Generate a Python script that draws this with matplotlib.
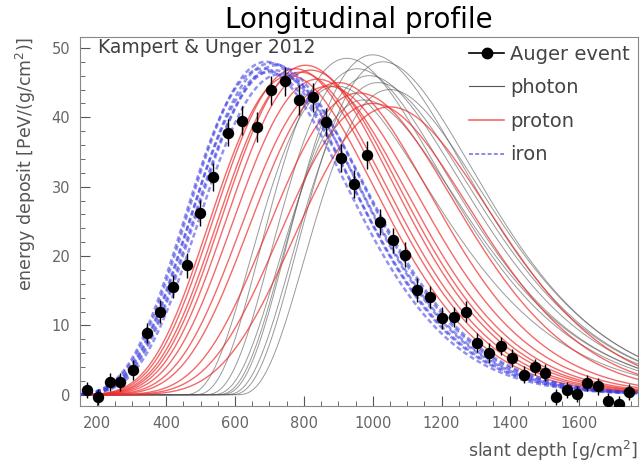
import matplotlib as mpl
mpl.use('Agg')
import matplotlib.pyplot as plt
from matplotlib.lines import Line2D
from matplotlib.ticker import MultipleLocator
import numpy as np

# Auger event
auger_x = [171, 203, 238, 267, 304, 345, 383, 420, 461, 499, 536, 580, 620, 664, 704,
           745, 786, 826, 864, 907, 945, 983, 1020, 1058, 1093, 1130, 1165, 1200, 1235,
           1272, 1304, 1339, 1374, 1406, 1438, 1470, 1501, 1533, 1565, 1594, 1623, 1655,
           1684, 1716, 1745]
auger_y = [0.7, -0.3, 1.9, 1.9, 3.6, 8.9, 12.0, 15.6, 18.7, 26.2, 31.4, 37.8, 39.5, 38.6, 43.9,
           45.2, 42.5, 42.9, 39.3, 34.1, 30.4, 34.6, 24.9, 22.3, 20.2, 15.1, 14.1, 11.1, 11.2,
           12.0, 7.5, 6.0, 7.1, 5.3, 2.9, 4.0, 3.2, -0.3, 0.7, 0.1, 1.7, 1.2,
           -0.9, -1.4, 0.4]
auger_err = [1.2, 1.2, 1.3, 1.3, 1.4, 1.5, 1.6, 1.7, 1.8, 1.9, 2.0, 2.0, 2.1, 2.1, 2.1,
             2.1, 2.1, 2.1, 2.0, 2.0, 2.0, 2.0, 1.9, 1.8, 1.8, 1.7, 1.6, 1.6, 1.5,
             1.5, 1.4, 1.4, 1.3, 1.3, 1.2, 1.2, 1.2, 1.2, 1.2, 1.2, 1.2, 1.2,
             1.2, 1.2, 1.2]

# simulated showers: depth of maximum and peak energy deposit per curve
photon_xmax = [895, 925, 955, 975, 990, 1000, 1015, 1030, 1050]
photon_emax = [44.5, 48.5, 47.0, 42.5, 46.0, 49.0, 45.0, 48.0, 44.0]
proton_xmax = [760, 775, 790, 805, 820, 840, 870, 900, 960, 1000, 1050]
proton_emax = [46.0, 47.0, 46.5, 47.5, 46.8, 45.5, 44.5, 45.0, 43.5, 42.0, 41.5]
iron_xmax = [680, 690, 698, 705, 712, 720, 730]
iron_emax = [47.0, 48.0, 46.5, 47.8, 46.8, 47.5, 46.2]


def gaisser_hillas(x, xmax, emax, x0, lam):
  t = xmax - x0
  u = np.clip((x - x0) / t, 1e-9, None)
  return emax * np.exp(t / lam * (np.log(u) + 1 - u))


fig = plt.figure(figsize=(6.41, 4.66), dpi=100)
ax = fig.add_axes([0.125, 0.129, 0.87, 0.792])

xs = np.linspace(150, 1770, 600)
for xm, em in zip(photon_xmax, photon_emax):
  ax.plot(xs, gaisser_hillas(xs, xm, em, xm - 450, 140), color='#555555', lw=0.7, alpha=0.6)
for xm, em in zip(proton_xmax, proton_emax):
  ax.plot(xs, gaisser_hillas(xs, xm, em, 0, 75), color='#ee2a2a', lw=1.0, alpha=0.7)
for xm, em in zip(iron_xmax, iron_emax):
  ax.plot(xs, gaisser_hillas(xs, xm, em, 0, 80), color='#3a3ae0', lw=1.8, alpha=0.55,
          ls=(0, (2, 1.2)))

ax.errorbar(auger_x, auger_y, yerr=auger_err, fmt='o', color='black', ms=7.2,
            elinewidth=1.0, capsize=0, zorder=5)

ax.set_xlim(150, 1770)
ax.set_ylim(-1.6, 51.6)
ax.xaxis.set_major_locator(MultipleLocator(200))
ax.xaxis.set_minor_locator(MultipleLocator(50))
ax.yaxis.set_major_locator(MultipleLocator(10))
ax.yaxis.set_minor_locator(MultipleLocator(2))
ax.tick_params(which='both', direction='in', top=False, right=False, color='#555555',
               labelcolor='#666666', labelsize=10.5)
ax.tick_params(which='major', length=7, pad=7)
ax.tick_params(which='minor', length=3.5)
for s in ax.spines.values():
  s.set_color('#888888')

ax.set_xlabel('slant depth [g/cm$^2$]', loc='right', fontsize=12.5, color='#555555', labelpad=6)
ax.set_ylabel('energy deposit [PeV/(g/cm$^2$)]', loc='top', fontsize=12.5, color='#555555',
              labelpad=10)
ax.set_title('Longitudinal profile', fontsize=20, pad=6)
ax.text(0.032, 0.970, 'Kampert & Unger 2012', transform=ax.transAxes, fontsize=13.5,
        color='#404040', va='center', ha='left')

handles = [
  Line2D([], [], color='black', marker='o', ms=7.5, lw=1.2),
  Line2D([], [], color='#555555', lw=0.8),
  Line2D([], [], color='#ee2a2a', lw=1.2, alpha=0.7),
  Line2D([], [], color='#3a3ae0', lw=1.4, alpha=0.6, ls=(0, (2, 1.2))),
]
ax.legend(handles, ['Auger event', 'photon', 'proton', 'iron'], loc='upper right',
          frameon=False, fontsize=14, labelcolor='#444444', handlelength=1.8,
          handletextpad=0.3, labelspacing=0.75, borderaxespad=0.0)

plt.savefig('out.png', dpi=100)
plt.close()
